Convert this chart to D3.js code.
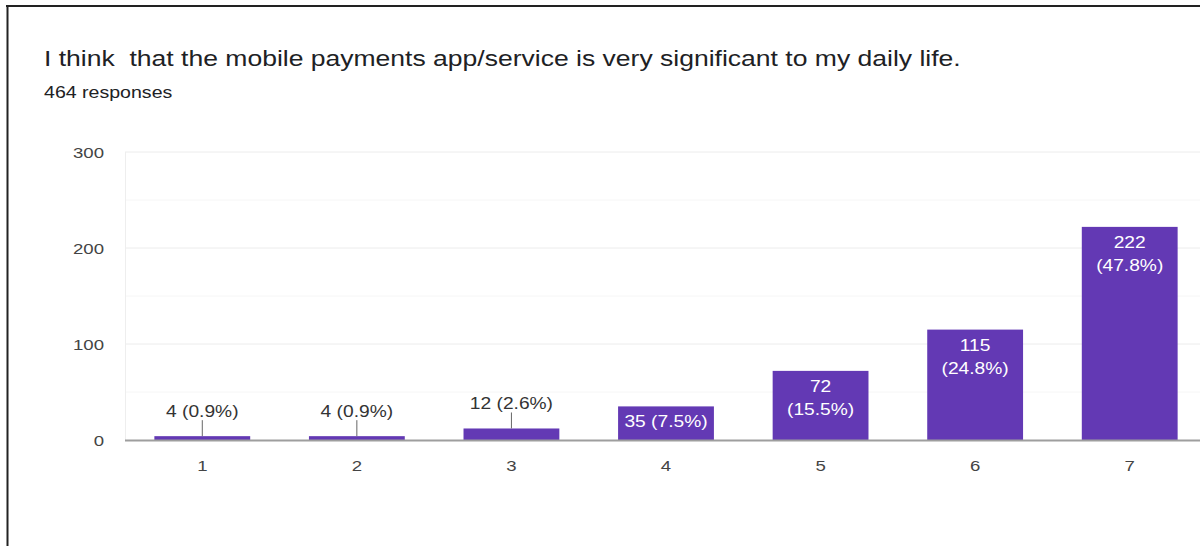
<!DOCTYPE html>
<html>
<head>
<meta charset="utf-8">
<script src="https://cdn.jsdelivr.net/npm/d3@7"></script>
<style>
  html, body { margin: 0; padding: 0; background: #fff; }
  svg { display: block; }
  svg text { white-space: pre; }
</style>
</head>
<body>
<svg id="chart" width="1200" height="546"></svg>
<script>
// Survey question and answer tallies
const title = "I think  that the mobile payments app/service is very significant to my daily life.";
const subtitle = "464 responses";
const categories = ["1", "2", "3", "4", "5", "6", "7"];
const counts = [4, 4, 12, 35, 72, 115, 222];
const percents = ["0.9%", "0.9%", "2.6%", "7.5%", "15.5%", "24.8%", "47.8%"];
const yTicks = [0, 100, 200, 300];
const yMinorTicks = [50, 150, 250];

const W = 1200, H = 546;
const FONT = "'Liberation Sans', Arial, Helvetica, sans-serif";
const SX = 1.2; // horizontal text stretch

const svg = d3.select("#chart");

// frame
svg.append("line").attr("x1", 6).attr("x2", W).attr("y1", 6).attr("y2", 6)
  .attr("stroke", "#222").attr("stroke-width", 2);
svg.append("line").attr("x1", 7.5).attr("x2", 7.5).attr("y1", 5).attr("y2", H)
  .attr("stroke", "#222").attr("stroke-width", 2);

function stretchedText(g, x, y, txt, size, fill, anchor) {
  return g.append("text")
    .attr("transform", `translate(${x},${y}) scale(${SX},1)`)
    .attr("text-anchor", anchor || "start")
    .attr("font-family", FONT)
    .attr("font-size", size)
    .attr("fill", fill)
    .text(txt);
}

stretchedText(svg, 44, 66, title, 22.1, "#202124");
stretchedText(svg, 44, 98, subtitle, 16.3, "#202124");

// scales
const x = d3.scaleBand().domain(categories).range([125, 1207])
  .paddingInner(0.38).paddingOuter(0.19);
const y = d3.scaleLinear().domain([0, 300]).range([440, 152]);

// gridlines
const grid = svg.append("g");
grid.selectAll("line.minor").data(yMinorTicks).join("line")
  .attr("class", "minor")
  .attr("x1", 125).attr("x2", W)
  .attr("y1", d => y(d)).attr("y2", d => y(d))
  .attr("stroke", "#f6f6f6").attr("stroke-width", 1);
grid.selectAll("line.major").data(yTicks.filter(d => d > 0)).join("line")
  .attr("class", "major")
  .attr("x1", 125).attr("x2", W)
  .attr("y1", d => y(d)).attr("y2", d => y(d))
  .attr("stroke", "#ececec").attr("stroke-width", 1);
grid.append("line").attr("x1", 125.5).attr("x2", 125.5)
  .attr("y1", y(300)).attr("y2", y(0))
  .attr("stroke", "#eeeeee");

// y-axis labels
const yAxis = d3.axisLeft(y).tickValues(yTicks).tickSize(0).tickPadding(0);
const yg = svg.append("g").attr("transform", "translate(104,0)").call(yAxis);
yg.select(".domain").remove();
yg.selectAll(".tick text")
  .attr("font-family", FONT).attr("font-size", 15.5).attr("fill", "#444")
  .attr("dy", "0.35em")
  .attr("transform", `scale(${SX},1)`)
  .attr("x", 0);

// bars
const bars = svg.append("g");
bars.selectAll("rect").data(counts).join("rect")
  .attr("x", (d, i) => x(categories[i]))
  .attr("width", x.bandwidth())
  .attr("y", d => y(d))
  .attr("height", d => y(0) - y(d))
  .attr("fill", "#6339b4");

// baseline
svg.append("line").attr("x1", 125).attr("x2", W)
  .attr("y1", y(0) + 0.5).attr("y2", y(0) + 0.5)
  .attr("stroke", "#9e9e9e").attr("stroke-width", 2);

// x-axis labels
const xAxis = d3.axisBottom(x).tickSize(0).tickPadding(0);
const xg = svg.append("g").attr("transform", `translate(0,${y(0) + 31})`).call(xAxis);
xg.select(".domain").remove();
xg.selectAll(".tick text")
  .attr("font-family", FONT).attr("font-size", 15.5).attr("fill", "#444")
  .attr("dy", 0).attr("y", 0)
  .attr("transform", `scale(${SX},1)`);

// value labels
const LBL = 16;
const labels = svg.append("g");
counts.forEach((v, i) => {
  const cx = x(categories[i]) + x.bandwidth() / 2;
  const top = y(v);
  const h = y(0) - top;
  const one = `${v} (${percents[i]})`;
  if (h < 25) {
    const base = top - 19;
    labels.append("line")
      .attr("x1", cx).attr("x2", cx)
      .attr("y1", top).attr("y2", base + 3)
      .attr("stroke", "#666").attr("stroke-width", 1);
    stretchedText(labels, cx, base, one, LBL, "#333", "middle");
  } else {
    const t = stretchedText(labels, cx, top + 21, one, LBL, "#fff", "middle");
    const w = t.node().getComputedTextLength() * SX;
    if (w > x.bandwidth() - 4) {
      t.remove();
      stretchedText(labels, cx, top + 21, String(v), LBL, "#fff", "middle");
      stretchedText(labels, cx, top + 44, `(${percents[i]})`, LBL, "#fff", "middle");
    }
  }
});
</script>
</body>
</html>
